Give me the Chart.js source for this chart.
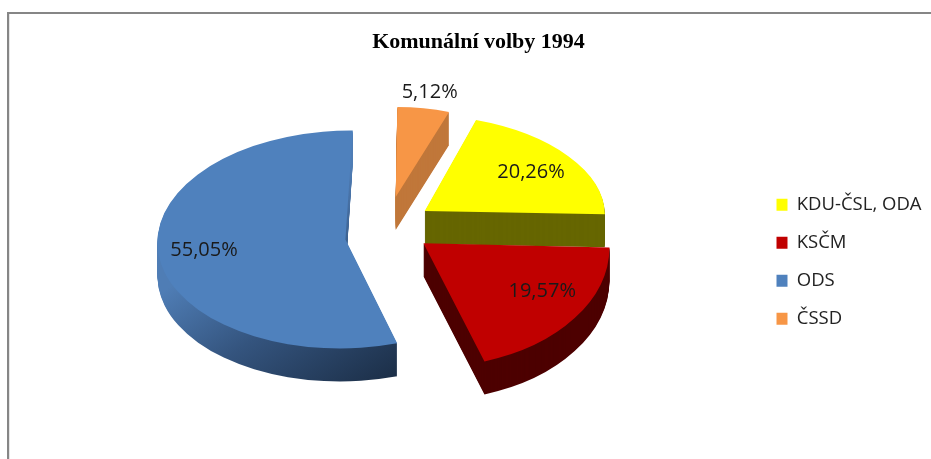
<!DOCTYPE html>
<html>
<head>
<meta charset="utf-8">
<title>Komunální volby 1994</title>
<script src="https://cdn.jsdelivr.net/npm/chart.js@4"></script>
<style>
  html, body { margin: 0; background: #fff; }
  canvas { display: block; }
</style>
</head>
<body>
<canvas id="pie" width="931" height="459"></canvas>
<script>
// data
const parties = ['KDU-ČSL, ODA', 'KSČM', 'ODS', 'ČSSD'];
const shares = [20.26, 19.57, 55.05, 5.12];
const chartTitle = 'Komunální volby 1994';

// look
const topColors = ['#ffff00', '#c00000', '#4f81bd', '#f79646'];
const wallColors = ['#666600', '#4d0000', null, '#c0773a'];
const explode = [47, 47, 41, 57];       // how far a slice is pulled out of the pie
const explodeTilt = [0.68, 0.5, 1.72, 0.57];
const radiusX = [180, 186, 188, 164];   // excel squashes the pie unevenly, so per slice
const radiusY = [96, 124, 109, 90];
const lean = [0.08, 0.04, -0.05, 0];    // fakes the perspective of the original
const labelDist = [129, 149, 143, 200];
const labelTilt = 0.53;
const pieX = 386, pieY = 229, depth = 33;
const paintOrder = [3, 2, 0, 1];
const labelFont = '20px "Open Sans"';

function apex(arc, i) {
  const mid = (arc.startAngle + arc.endAngle) / 2;
  return {
    x: pieX + Math.cos(mid) * explode[i],
    y: pieY + Math.sin(mid) * explode[i] * explodeTilt[i]
  };
}

function toSlice(ctx, arc, i) {
  const p = apex(arc, i);
  ctx.translate(p.x, p.y);
  ctx.transform(1, 0, lean[i], 1, 0, 0);
  ctx.scale(radiusX[i] / arc.outerRadius, radiusY[i] / arc.outerRadius);
  ctx.translate(-arc.x, -arc.y);
}

// gradient runs along (117,169) on screen, has to be converted to the squashed space
function odsWall(ctx) {
  const t = ctx.getTransform();
  const a = t.inverse().transformPoint({x: 165, y: 290});
  const gx = 0.00278 * t.a, gy = 0.004 * t.d;
  const n = gx * gx + gy * gy;
  const g = ctx.createLinearGradient(a.x, a.y, a.x + gx / n, a.y + gy / n);
  g.addColorStop(0, '#4f7db5');
  g.addColorStop(0.45, '#34547e');
  g.addColorStop(1, '#1c2f48');
  return g;
}

const frame = {
  id: 'frame',
  beforeDraw(chart) {
    const ctx = chart.ctx;
    ctx.save();
    ctx.fillStyle = '#868686';
    ctx.fillRect(7, 12, chart.width - 7, 2);
    ctx.fillRect(7, 12, 2, chart.height - 12);
    ctx.fillStyle = '#e6e6e6';
    ctx.fillRect(9, 14, 1, chart.height - 14);
    ctx.restore();
  }
};

// chart.js has no 3d pie: paint the arc elements ourselves, squashed, with a stacked wall under them
const pie3d = {
  id: 'pie3d',
  afterLayout(chart) {
    const legend = chart.legend;
    legend.left = 757;
    legend.right = 931;
    legend.top = 176;
    legend.bottom = 459;
  },
  beforeDatasetDraw(chart, args) {
    const ctx = chart.ctx;
    const arcs = args.meta.data;
    paintOrder.forEach(i => {
      const arc = arcs[i];
      const base = arc.options;
      for (let d = depth; d >= 1; d--) {
        ctx.save();
        ctx.translate(0, d);
        toSlice(ctx, arc, i);
        arc.options = Object.assign({}, base, {backgroundColor: wallColors[i] || odsWall(ctx)});
        arc.draw(ctx);
        ctx.restore();
      }
      arc.options = base;
      ctx.save();
      toSlice(ctx, arc, i);
      arc.draw(ctx);
      ctx.restore();
    });
    return false;
  },
  afterDatasetsDraw(chart) {
    const ctx = chart.ctx;
    const arcs = chart.getDatasetMeta(0).data;
    ctx.save();
    ctx.font = labelFont;
    ctx.fillStyle = '#1a1a1a';
    ctx.textAlign = 'center';
    ctx.textBaseline = 'middle';
    arcs.forEach((arc, i) => {
      const mid = (arc.startAngle + arc.endAngle) / 2;
      const p = apex(arc, i);
      const x = p.x + Math.cos(mid) * labelDist[i];
      const y = p.y + Math.sin(mid) * labelDist[i] * labelTilt;
      ctx.fillText(shares[i].toFixed(2).replace('.', ',') + '%', x, y);
    });
    ctx.restore();
  }
};

new Chart(document.getElementById('pie'), {
  type: 'pie',
  data: {
    labels: parties,
    datasets: [{
      data: shares,
      backgroundColor: topColors,
      borderWidth: 0,
      clip: false
    }]
  },
  options: {
    responsive: false,
    animation: false,
    rotation: 19,
    layout: { padding: { left: 26 } },
    plugins: {
      title: {
        display: true,
        text: chartTitle,
        color: '#000',
        font: { family: '"Liberation Serif"', size: 22, weight: 'bold' },
        padding: { top: 29, bottom: 10 }
      },
      legend: {
        position: 'right',
        align: 'start',
        labels: {
          boxWidth: 11,
          boxHeight: 12,
          padding: 19.5,
          color: '#222',
          font: { family: '"Open Sans"', size: 18.5 }
        }
      },
      tooltip: { enabled: false }
    }
  },
  plugins: [frame, pie3d]
});
</script>
</body>
</html>
